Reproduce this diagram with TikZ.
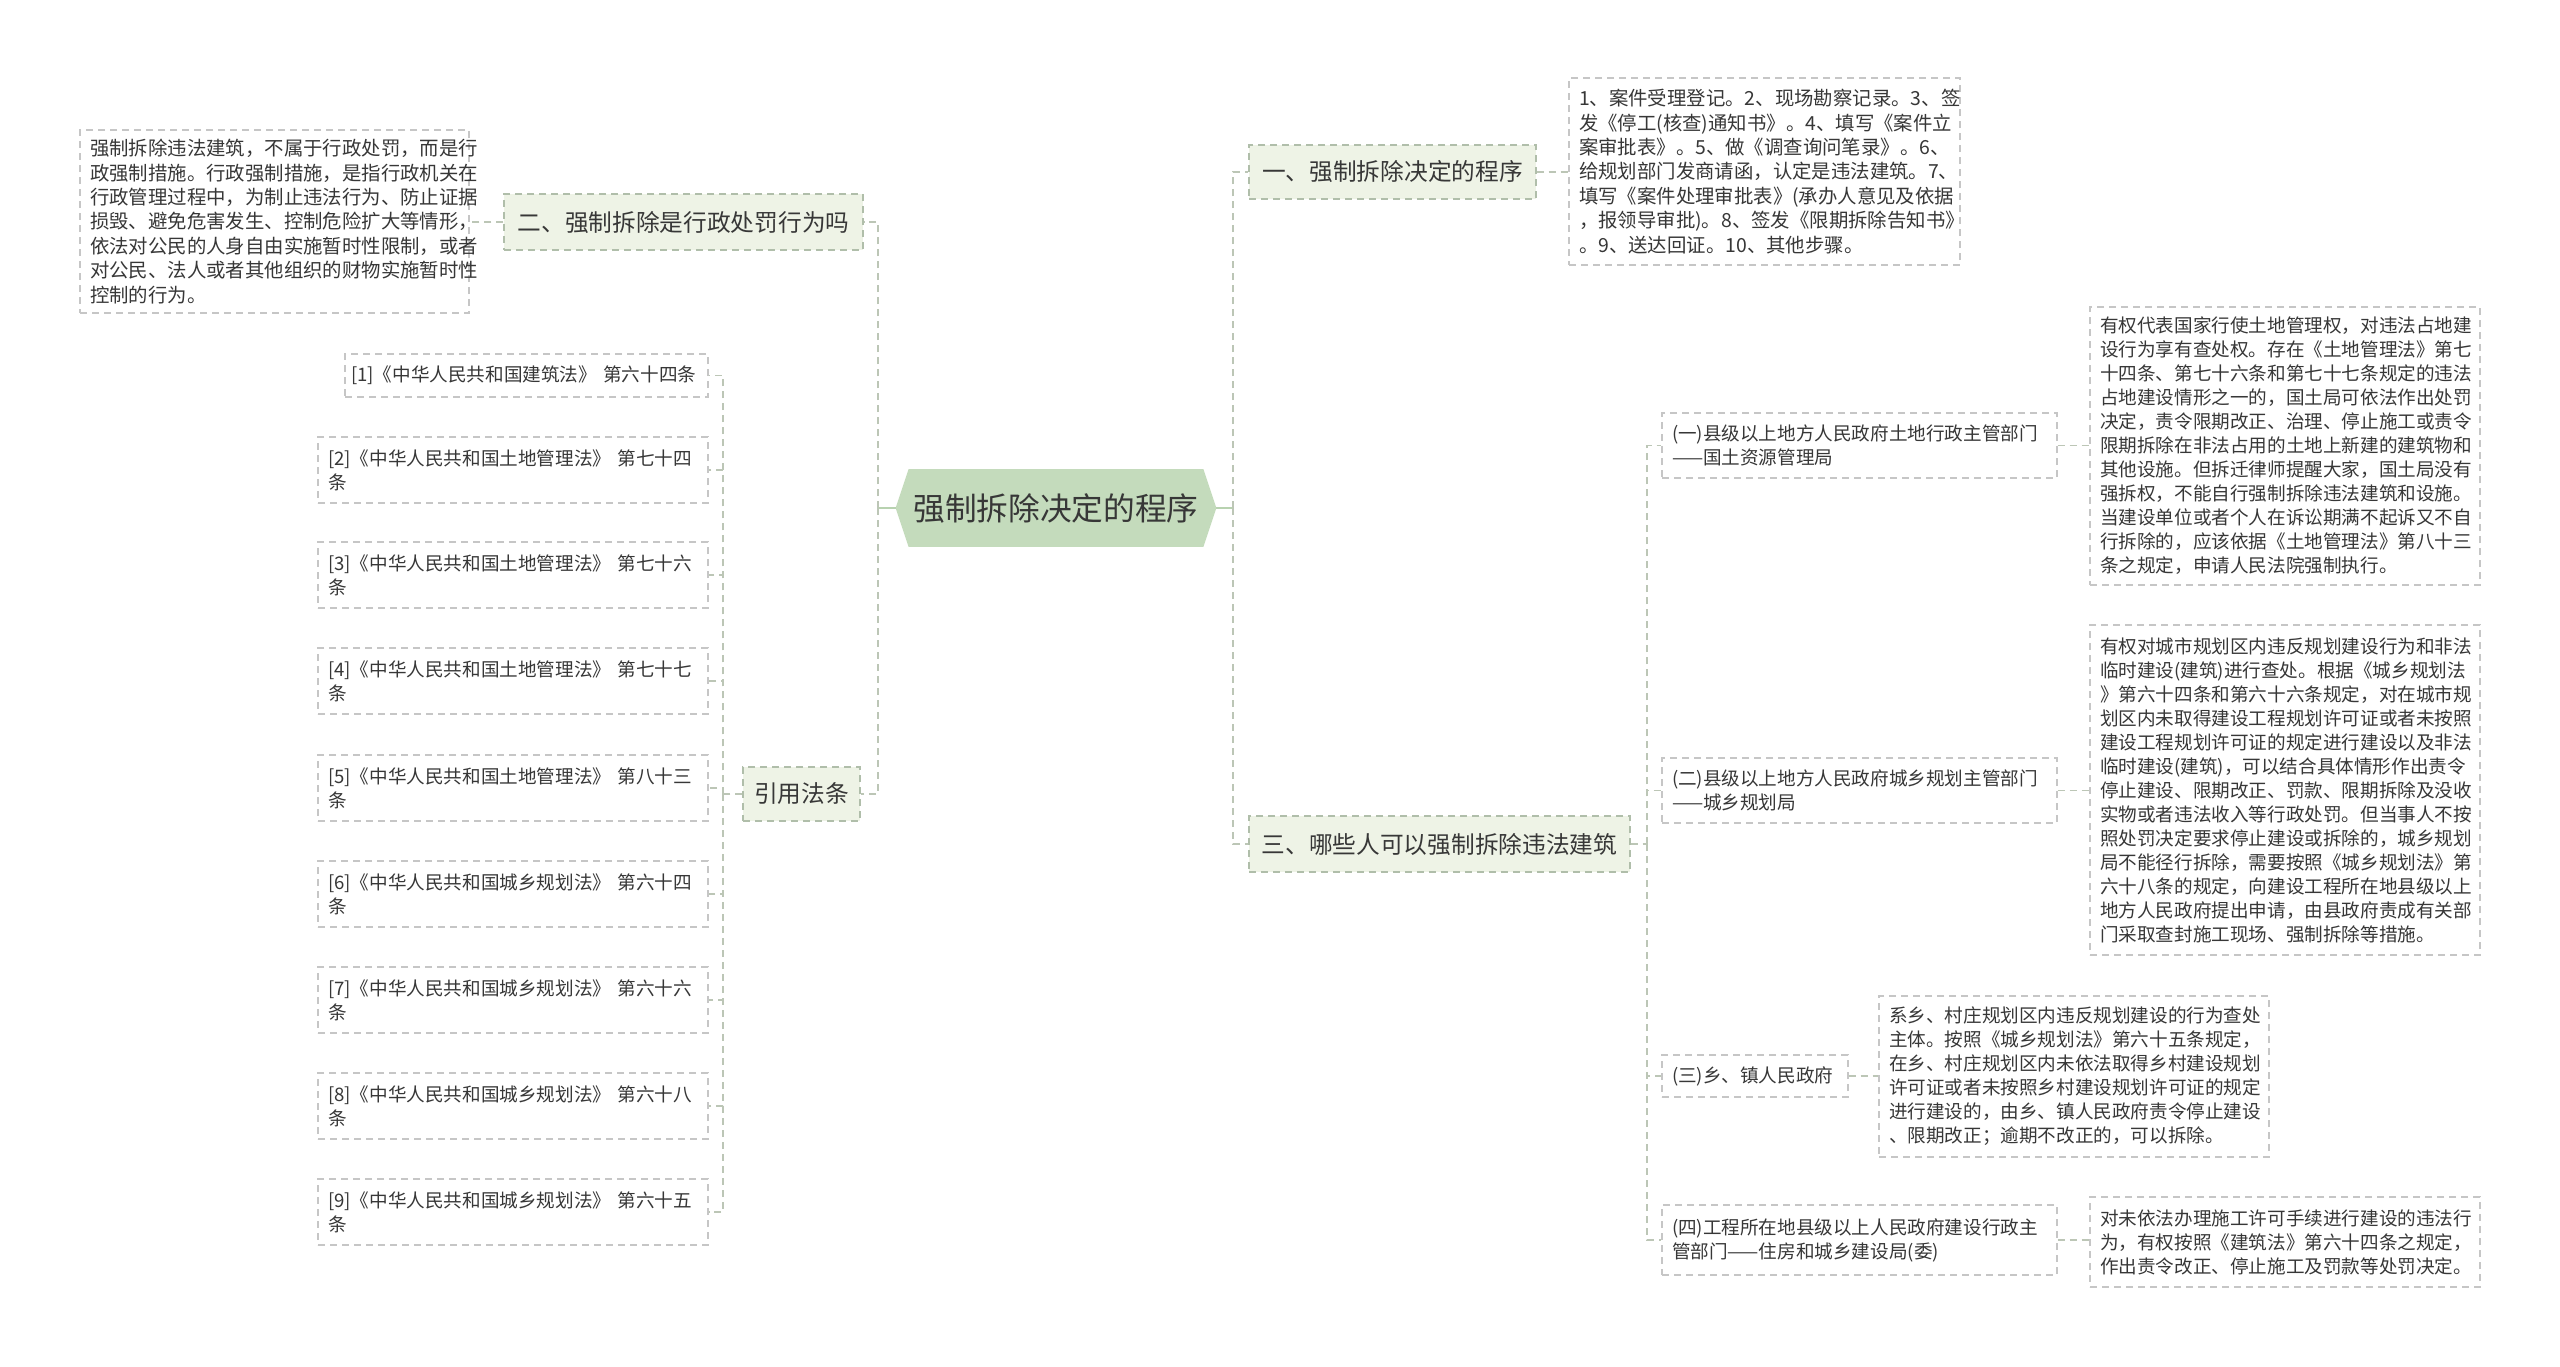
\documentclass[tikz,border=0pt]{standalone}
\usepackage{fontspec}
\setmainfont{Noto Sans CJK SC}
\usetikzlibrary{backgrounds}
\definecolor{linec}{RGB}{188,198,182}
\definecolor{stubc}{RGB}{184,210,176}
\definecolor{leafborder}{RGB}{198,198,198}
\definecolor{branchborder}{RGB}{176,190,170}
\definecolor{branchfill}{RGB}{238,243,230}
\definecolor{hubfill}{RGB}{196,219,188}
\definecolor{txt}{RGB}{55,55,55}
\tikzset{
  conn/.style={draw=linec, line width=0.7pt, dash pattern=on 3.5pt off 2.5pt},
  stubline/.style={draw=stubc, line width=1.2pt},
  box/.style={rectangle, inner sep=0pt, text=txt, dash pattern=on 3.5pt off 2.5pt, line width=0.7pt},
  branch/.style={box, draw=branchborder, fill=branchfill, font=\fontsize{11.85pt}{14pt}\selectfont, align=center},
  leaf/.style={box, draw=leafborder, fill=white, align=left, inner xsep=5pt},
  fa/.style={font=\fontsize{9.7pt}{12.2pt}\selectfont},
  fb/.style={font=\fontsize{9.3pt}{12pt}\selectfont},
  law/.style={leaf, fb, minimum width=195pt, text width=185pt, minimum height=33pt},
}
\begin{document}
\begin{tikzpicture}[x=0.5pt, y=-0.5pt]
\useasboundingbox (0,0) rectangle (2560,1366);

% hub
\node[inner sep=0pt, minimum width=160pt, minimum height=38.5pt, text=txt,
      font=\fontsize{15.85pt}{18pt}\selectfont] (hub) at (1056,508) {强制拆除决定的程序};
\begin{scope}[on background layer]
\fill[white] (0,0) rectangle (2560,1366);
\fill[hubfill] ([xshift=6.5pt]hub.north west) -- ([xshift=-6.5pt]hub.north east) -- (hub.east)
  -- ([xshift=-6.5pt]hub.south east) -- ([xshift=6.5pt]hub.south west) -- (hub.west) -- cycle;
\end{scope}

% left branches
\node[branch, minimum width=179.5pt, minimum height=28pt] (b2) at (683.5,222) {二、强制拆除是行政处罚行为吗};
\node[branch, minimum width=58.5pt, minimum height=27pt] (cite) at (801.5,794) {引用法条};

\node[leaf, fa, minimum width=194.5pt, text width=184.5pt, minimum height=91.5pt] (leafA) at (274.5,221.5)
{强制拆除违法建筑，不属于行政处罚，而是行\\
政强制措施。行政强制措施，是指行政机关在\\
行政管理过程中，为制止违法行为、防止证据\\
损毁、避免危害发生、控制危险扩大等情形，\\
依法对公民的人身自由实施暂时性限制，或者\\
对公民、法人或者其他组织的财物实施暂时性\\
控制的行为。};

\node[leaf, fb, inner xsep=3pt, minimum width=181.5pt, text width=175.5pt, minimum height=21.5pt] (law1) at (526.5,375.5)
{[1]《中华人民共和国建筑法》~第六十四条};
\node[law] (law2) at (513,470) {[2]《中华人民共和国土地管理法》 第七十四\\条};
\node[law] (law3) at (513,575) {[3]《中华人民共和国土地管理法》 第七十六\\条};
\node[law] (law4) at (513,681) {[4]《中华人民共和国土地管理法》 第七十七\\条};
\node[law] (law5) at (513,788) {[5]《中华人民共和国土地管理法》 第八十三\\条};
\node[law] (law6) at (513,894) {[6]《中华人民共和国城乡规划法》 第六十四\\条};
\node[law] (law7) at (513,1000) {[7]《中华人民共和国城乡规划法》 第六十六\\条};
\node[law] (law8) at (513,1106) {[8]《中华人民共和国城乡规划法》 第六十八\\条};
\node[law] (law9) at (513,1212) {[9]《中华人民共和国城乡规划法》 第六十五\\条};

% right branches
\node[branch, minimum width=143.5pt, minimum height=27pt] (b1) at (1392.5,172) {一、强制拆除决定的程序};
\node[branch, minimum width=190.5pt, minimum height=28pt] (b3) at (1439.5,844) {三、哪些人可以强制拆除违法建筑};

\node[leaf, fa, minimum width=195.5pt, text width=185.5pt, minimum height=93.5pt] (steps) at (1764.5,171.5)
{1、案件受理登记。2、现场勘察记录。3、签\\
发《停工(核查)通知书》。4、填写《案件立\\
案审批表》。5、做《调查询问笔录》。6、\\
给规划部门发商请函，认定是违法建筑。7、\\
填写《案件处理审批表》(承办人意见及依据\\
，报领导审批)。8、签发《限期拆除告知书》\\
。9、送达回证。10、其他步骤。};

\node[leaf, fb, minimum width=197.5pt, text width=187.5pt, minimum height=32.5pt] (s1) at (1859.5,445.5)
{(一)县级以上地方人民政府土地行政主管部门\\——国土资源管理局};
\node[leaf, fb, minimum width=197.5pt, text width=187.5pt, minimum height=32.5pt] (s2) at (1859.5,790.5)
{(二)县级以上地方人民政府城乡规划主管部门\\——城乡规划局};
\node[leaf, fb, minimum width=93pt, text width=83pt, minimum height=21pt] (s3) at (1755,1076)
{(三)乡、镇人民政府};
\node[leaf, fb, minimum width=197.5pt, text width=187.5pt, minimum height=35pt] (s4) at (1859.5,1240)
{(四)工程所在地县级以上人民政府建设行政主\\管部门——住房和城乡建设局(委)};

\node[leaf, fb, minimum width=195pt, text width=185pt, minimum height=139pt] (t1) at (2285,446)
{有权代表国家行使土地管理权，对违法占地建\\
设行为享有查处权。存在《土地管理法》第七\\
十四条、第七十六条和第七十七条规定的违法\\
占地建设情形之一的，国土局可依法作出处罚\\
决定，责令限期改正、治理、停止施工或责令\\
限期拆除在非法占用的土地上新建的建筑物和\\
其他设施。但拆迁律师提醒大家，国土局没有\\
强拆权，不能自行强制拆除违法建筑和设施。\\
当建设单位或者个人在诉讼期满不起诉又不自\\
行拆除的，应该依据《土地管理法》第八十三\\
条之规定，申请人民法院强制执行。};

\node[leaf, fb, minimum width=195pt, text width=185pt, minimum height=165pt] (t2) at (2285,790)
{有权对城市规划区内违反规划建设行为和非法\\
临时建设(建筑)进行查处。根据《城乡规划法\\
》第六十四条和第六十六条规定，对在城市规\\
划区内未取得建设工程规划许可证或者未按照\\
建设工程规划许可证的规定进行建设以及非法\\
临时建设(建筑)，可以结合具体情形作出责令\\
停止建设、限期改正、罚款、限期拆除及没收\\
实物或者违法收入等行政处罚。但当事人不按\\
照处罚决定要求停止建设或拆除的，城乡规划\\
局不能径行拆除，需要按照《城乡规划法》第\\
六十八条的规定，向建设工程所在地县级以上\\
地方人民政府提出申请，由县政府责成有关部\\
门采取查封施工现场、强制拆除等措施。};

\node[leaf, fb, minimum width=195pt, text width=185pt, minimum height=80.5pt] (t3) at (2074,1076.5)
{系乡、村庄规划区内违反规划建设的行为查处\\
主体。按照《城乡规划法》第六十五条规定，\\
在乡、村庄规划区内未依法取得乡村建设规划\\
许可证或者未按照乡村建设规划许可证的规定\\
进行建设的，由乡、镇人民政府责令停止建设\\
、限期改正；逾期不改正的，可以拆除。};

\node[leaf, fb, minimum width=195pt, text width=185pt, minimum height=45pt] (t4) at (2285,1242)
{对未依法办理施工许可手续进行建设的违法行\\
为，有权按照《建筑法》第六十四条之规定，\\
作出责令改正、停止施工及罚款等处罚决定。};

% connectors
\coordinate (lt) at (878,508);
\coordinate (ct) at (723,794);
\coordinate (rt) at (1233,508);
\coordinate (st) at (1647,844);

\draw[stubline] (hub.west) -- (lt);
\draw[stubline] (hub.east) -- (rt);
\draw[conn] (lt) |- (b2.east);
\draw[conn] (lt) |- (cite.east);
\draw[conn] (b2.west) -- (b2.west -| leafA.east);
\draw[conn] (cite.west) -- (ct);
\foreach \n in {law1,law2,law3,law4,law5,law6,law7,law8,law9}
  \draw[conn] (ct) |- (\n.east);

\draw[conn] (rt) |- (b1.west);
\draw[conn] (rt) |- (b3.west);
\draw[conn] (b1.east) -- (b1.east -| steps.west);
\draw[conn] (b3.east) -- (st);
\foreach \n in {s1,s2,s3,s4}
  \draw[conn] (st) |- (\n.west);
\draw[conn] (s1.east) -- (s1.east -| t1.west);
\draw[conn] (s2.east) -- (s2.east -| t2.west);
\draw[conn] (s3.east) -- (s3.east -| t3.west);
\draw[conn] (s4.east) -- (s4.east -| t4.west);
\end{tikzpicture}
\end{document}
